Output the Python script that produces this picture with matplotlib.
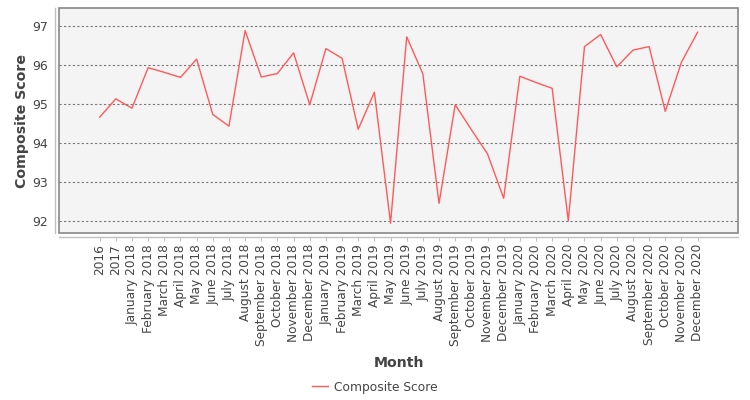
import matplotlib
matplotlib.use('Agg')
import matplotlib.pyplot as plt
from matplotlib.patches import Rectangle

months = ['2016', '2017',
          'January 2018', 'February 2018', 'March 2018', 'April 2018', 'May 2018', 'June 2018',
          'July 2018', 'August 2018', 'September 2018', 'October 2018', 'November 2018', 'December 2018',
          'January 2019', 'February 2019', 'March 2019', 'April 2019', 'May 2019', 'June 2019',
          'July 2019', 'August 2019', 'September 2019', 'October 2019', 'November 2019', 'December 2019',
          'January 2020', 'February 2020', 'March 2020', 'April 2020', 'May 2020', 'June 2020',
          'July 2020', 'August 2020', 'September 2020', 'October 2020', 'November 2020', 'December 2020']
scores = [94.67, 95.14, 94.90, 95.94, 95.82, 95.69, 96.16, 94.74, 94.44, 96.89,
          95.70, 95.79, 96.32, 94.99, 96.43, 96.18, 94.36, 95.31, 91.95, 96.73,
          95.78, 92.46, 94.99, 94.35, 93.73, 92.59, 95.72, 95.56, 95.41, 92.01,
          96.48, 96.79, 95.96, 96.39, 96.48, 94.82, 96.08, 96.85]
yticks = [92, 93, 94, 95, 96, 97]

fig = plt.figure(figsize=(7.5, 4), dpi=100)
ax = fig.add_axes([0.079, 0.4175, 0.905, 0.5625])
ax.set_facecolor('#f4f4f4')

x = list(range(len(months)))
ax.plot(x, scores, color='#ff5a5a', linewidth=1, label='Composite Score')

ax.set_xlim(-2.5, len(months) + 1.5)
ax.set_ylim(91.7, 97.47)
ax.set_yticks(yticks)
ax.set_xticks(x)
ax.set_xticklabels(months)
ax.grid(axis='y', color='#777777', linestyle=(0, (2, 2)), linewidth=0.8)
ax.set_axisbelow(True)

# frame around plot area
ax.add_patch(Rectangle((0, 0), 1, 1, transform=ax.transAxes, fill=False,
                       edgecolor='#888888', linewidth=1.2, clip_on=False, zorder=5))
for s in ['top', 'right']:
    ax.spines[s].set_visible(False)
for s in ['left', 'bottom']:
    ax.spines[s].set_position(('outward', 3))
    ax.spines[s].set_color('#c0c0c0')
    ax.spines[s].set_linewidth(1)

ax.tick_params(axis='y', length=0, pad=5, labelsize=9, labelcolor='#444444')
ax.tick_params(axis='x', length=3, width=0.8, color='#c0c0c0', pad=2, labelsize=8.7,
               labelcolor='#444444', labelrotation=90)

ax.set_xlabel('Month', fontsize=10.2, fontweight='bold', color='#444444')
ax.set_ylabel('Composite Score', fontsize=10.2, fontweight='bold', color='#444444')
ax.xaxis.set_label_coords(0.5, -0.578)
ax.xaxis.label.set_va('center')
ax.yaxis.set_label_coords(-0.055, 0.5)
ax.yaxis.label.set_va('center')

fig.legend(loc='center', bbox_to_anchor=(0.5, 0.032), frameon=False, fontsize=8.8,
           labelcolor='#444444', handlelength=1.3, handletextpad=0.5)

fig.savefig('out.png', dpi=100)
